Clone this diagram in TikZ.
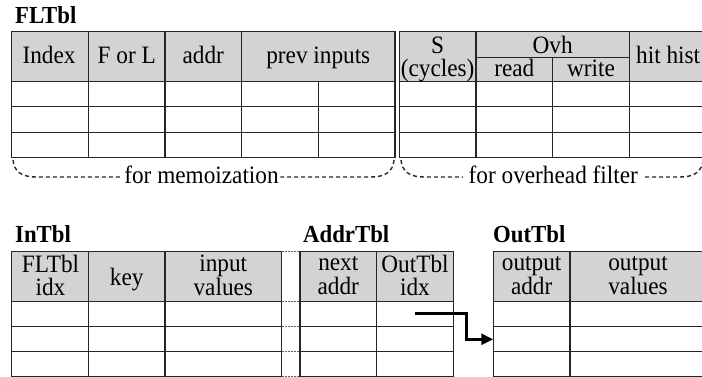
\documentclass[tikz,border=0pt]{standalone}
\usepackage{fontspec}
\setmainfont{Liberation Serif}[FakeStretch=0.93]
\usetikzlibrary{arrows.meta}
\definecolor{hdr}{RGB}{211,211,213}
\tikzset{
  gridline/.style={draw=black!85, line width=1.2pt},
  hdrfill/.style={fill=hdr},
  txt/.style={inner sep=0pt, font=\fontsize{25}{23.5}\selectfont, align=center},
  ttl/.style={inner sep=0pt, anchor=base west, font=\fontsize{24.5}{23.5}\selectfont\bfseries},
  bracepath/.style={draw=black!85, line width=1.4pt, dash pattern=on 4pt off 3pt},
  linkline/.style={draw=black!60, line width=1pt, dash pattern=on 2pt off 1pt},
  flow/.style={draw=black, line width=2.6pt, -{Triangle[length=12pt,width=11pt]}},
}
\begin{document}
\begin{tikzpicture}[x=1pt,y=-1pt]
\useasboundingbox (0,0) rectangle (702,377);
\clip (0,0) rectangle (702,377);

% ---------- FLTbl ----------
\node[ttl] (tfl) at (15,24) {FLTbl};
% memoization part
\fill[hdrfill] (11.7,31.7) rectangle (395,81.7);
\draw[gridline] (11.7,31.7) rectangle (395,157.3);
\foreach \yy in {81.7,106.7,132.3} \draw[gridline] (11.7,\yy) -- (395,\yy);
\foreach \xx in {88.3,165,241.7} \draw[gridline] (\xx,31.7) -- (\xx,157.3);
\draw[gridline] (318.3,81.7) -- (318.3,157.3);
\node[txt,anchor=base] (hindex) at (49,63.3) {Index};
\node[txt,anchor=base] (hfl) at (126.7,63.3) {F or L};
\node[txt,anchor=base] (haddr) at (203.3,63.3) {addr};
\node[txt,anchor=base] (hprev) at (318.3,63.3) {prev inputs};
% overhead filter part
\fill[hdrfill] (399.3,31.7) rectangle (730,81.7);
\draw[gridline] (730,31.7) -- (399.3,31.7) -- (399.3,157.3) -- (730,157.3);
\foreach \yy in {81.7,106.7,132.3} \draw[gridline] (399.3,\yy) -- (730,\yy);
\foreach \xx in {476,629.3} \draw[gridline] (\xx,31.7) -- (\xx,157.3);
\draw[gridline] (552.7,57.3) -- (552.7,157.3);
\draw[gridline] (476,57.3) -- (629.3,57.3);
\node[txt] (hs) at (437.6,59.3) {S\\(cycles)};
\node[txt,anchor=base] (hovh) at (552.7,53.3) {Ovh};
\node[txt,anchor=base] (hread) at (514.3,77) {read};
\node[txt,anchor=base] (hwrite) at (591,77) {write};
\node[txt,anchor=base west] (hhit) at (636,63.3) {hit hist};

% braces
\node[txt,anchor=base,inner sep=1.5pt] (memo) at (201.5,184) {for memoization};
\draw[bracepath] (13,160) .. controls (14,171) and (21,177) .. (36,177) -- (memo.west |- 0,177);
\draw[bracepath] (394,160) .. controls (393,171) and (386,177) .. (371,177) -- (memo.east |- 0,177);
\node[txt,anchor=base,inner sep=1.5pt] (ovf) at (553.3,184) {for overhead filter};
\draw[bracepath] (401,160) .. controls (402,171) and (409,177) .. (424,177) -- ([xshift=-4pt]ovf.west |- 0,177);
\draw[bracepath] (703,160) .. controls (702,171) and (695,177) .. (680,177) -- ([xshift=4pt]ovf.east |- 0,177);

% ---------- InTbl ----------
\node[ttl] (tin) at (15,243) {InTbl};
\fill[hdrfill] (11.7,251.7) rectangle (281.7,301.7);
\draw[gridline] (11.7,251.7) rectangle (281.7,376.2);
\foreach \yy in {301.7,326.7,351.7} \draw[gridline] (11.7,\yy) -- (281.7,\yy);
\foreach \xx in {88.3,165} \draw[gridline] (\xx,251.7) -- (\xx,376.2);
\node[txt] (hflidx) at (50.5,275.5) {FLTbl\\idx};
\node[txt,anchor=base] (hkey) at (126.7,285) {key};
\node[txt] (hinval) at (223.3,275.5) {input\\values};

% dotted links between InTbl and AddrTbl
\foreach \yy in {251.7,301.7,326.7,351.7,376.2} \draw[linkline] (281.7,\yy) -- (300,\yy);

% ---------- AddrTbl ----------
\node[ttl] (taddr) at (303,243) {AddrTbl};
\fill[hdrfill] (300,251.7) rectangle (453.3,301.7);
\draw[gridline] (300,251.7) rectangle (453.3,376.2);
\foreach \yy in {301.7,326.7,351.7} \draw[gridline] (300,\yy) -- (453.3,\yy);
\draw[gridline] (376.7,251.7) -- (376.7,376.2);
\node[txt] (hnext) at (338.3,275.5) {next\\addr};
\node[txt] (houtidx) at (415,275.5) {OutTbl\\idx};

% ---------- OutTbl ----------
\node[ttl] (tout) at (493,243) {OutTbl};
\fill[hdrfill] (493.3,251.7) rectangle (730,301.7);
\draw[gridline] (730,251.7) -- (493.3,251.7) -- (493.3,376.2) -- (730,376.2);
\foreach \yy in {301.7,326.7,351.7} \draw[gridline] (493.3,\yy) -- (730,\yy);
\draw[gridline] (570,251.7) -- (570,376.2);
\node[txt] (houtaddr) at (531.7,275.5) {output\\addr};
\node[txt] (houtval) at (638,275.5) {output\\values};

% arrow from AddrTbl to OutTbl
\coordinate (src) at (415,313.3);
\coordinate (dst) at (493.3,339.3);
\draw[flow] (src) -- (466.7,313.3) |- (dst);
\end{tikzpicture}
\end{document}
